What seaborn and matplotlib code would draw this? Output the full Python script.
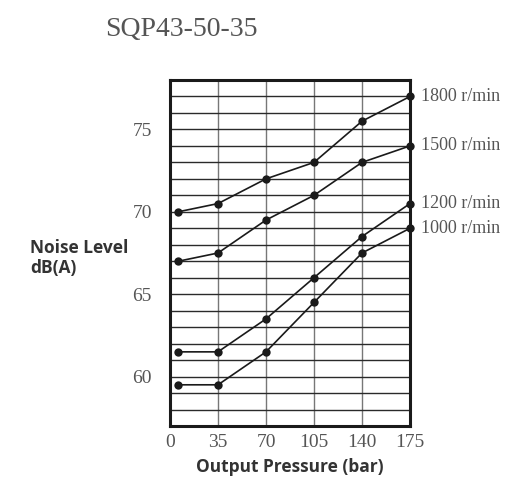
import matplotlib
matplotlib.use("Agg")
import matplotlib.pyplot as plt
import seaborn as sns
import pandas as pd

pressure = [6, 35, 70, 105, 140, 175]
speeds = ["1800 r/min", "1500 r/min", "1200 r/min", "1000 r/min"]
noise_1800 = [70.0, 70.5, 72.0, 73.0, 75.5, 77.0]
noise_1500 = [67.0, 67.5, 69.5, 71.0, 73.0, 74.0]
noise_1200 = [61.5, 61.5, 63.5, 66.0, 68.5, 70.5]
noise_1000 = [59.5, 59.5, 61.5, 64.5, 67.5, 69.0]
x_ticks = [0, 35, 70, 105, 140, 175]
y_ticks = [60, 65, 70, 75]
title = "SQP43-50-35"

series = [noise_1800, noise_1500, noise_1200, noise_1000]
rows = []
for sp, vals in zip(speeds, series):
    for p, v in zip(pressure, vals):
        rows.append({"pressure": p, "noise": v, "speed": sp})
df = pd.DataFrame(rows)

sns.set_style("white")
fig = plt.figure(figsize=(5.09, 4.82), dpi=100)
ax = fig.add_axes([170/509, 1-426/482, 240/509, 346/482])

sns.lineplot(data=df, x="pressure", y="noise", hue="speed", hue_order=speeds,
             palette=["#1a1a1a"]*4, marker="o", markersize=6, markeredgewidth=0,
             linewidth=1.2, legend=False, ax=ax, zorder=5, clip_on=False)

ax.set_xlim(0, 175)
ax.set_ylim(57, 78)
ax.set_xticks(x_ticks)
ax.set_yticks(y_ticks)
ax.set_yticks(range(58, 78), minor=True)
ax.grid(True, which="both", axis="y", color="#2a2a2a", linewidth=1.0)
ax.grid(True, which="major", axis="x", color="#777777", linewidth=1.0)
ax.set_axisbelow(True)
ax.tick_params(which="both", length=0)
ax.tick_params(axis="y", pad=13)
ax.tick_params(axis="x", pad=6)
serif = ["Liberation Serif", "DejaVu Serif"]
for lab in ax.get_xticklabels() + ax.get_yticklabels():
    lab.set_family(serif)
    lab.set_fontsize(14)
    lab.set_color("#555555")
for sp in ax.spines.values():
    sp.set_visible(True)
    sp.set_color("#1a1a1a")
    sp.set_linewidth(2.2)

ax.set_xlabel("")
ax.set_ylabel("")

for sp, vals in zip(speeds, series):
    ax.annotate(sp, xy=(175, vals[-1]), xytext=(8, 0), textcoords="offset points",
                ha="left", va="center", family=serif, fontsize=13, color="#555555")

fig.text(105/509, 1-30/482, title, family=serif, fontsize=20, color="#555555",
         ha="left", va="center")
sans = ["Open Sans", "DejaVu Sans"]
fig.text(290/509, 1-467/482, "Output Pressure (bar)", family=sans,
         fontweight="bold", fontsize=12.5, color="#333333", ha="center", va="center")
fig.text(30/509, 1-258/482, "Noise Level\ndB(A)", family=sans,
         fontweight="bold", fontsize=12.5, color="#333333", ha="left", va="center",
         linespacing=1.15)

fig.savefig("out.png", dpi=100)
